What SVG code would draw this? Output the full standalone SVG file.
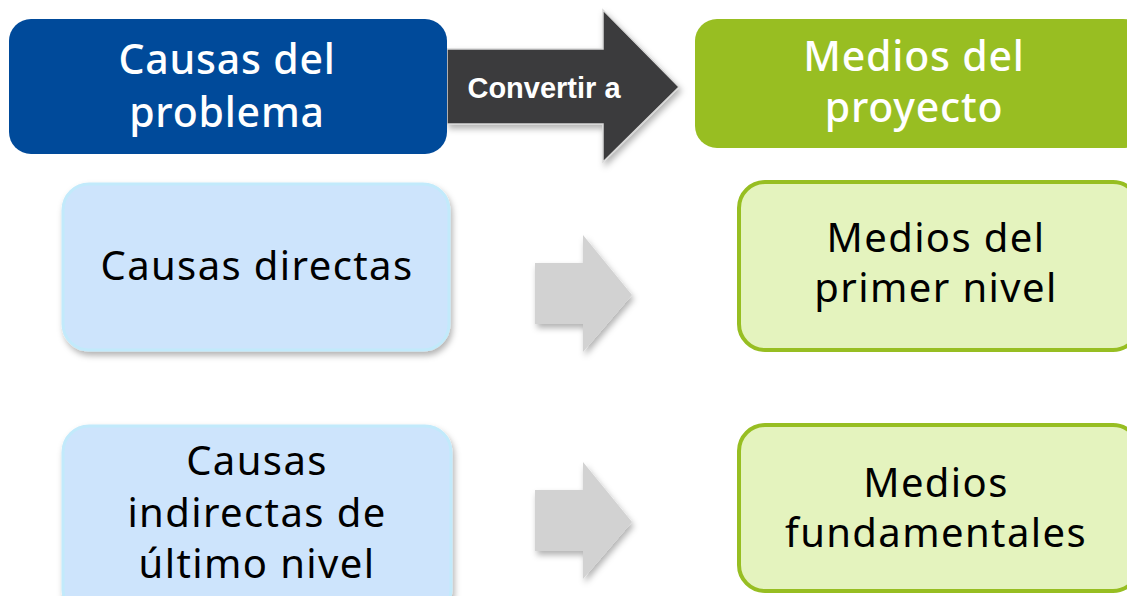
<svg xmlns="http://www.w3.org/2000/svg" width="1127" height="596" viewBox="0 0 1127 596">
<defs>
<filter id="sh" x="-10%" y="-10%" width="130%" height="130%">
<feDropShadow dx="2" dy="4" stdDeviation="3" flood-color="#000" flood-opacity="0.3"/>
</filter>
<style>
.t{font-family:"Noto Sans","Open Sans",sans-serif;text-anchor:middle}
.w{fill:#fff;font-size:41px;letter-spacing:0.8px;font-weight:500}
.k{fill:#000;font-size:40px;letter-spacing:1.4px}
.cause{fill:#CDE4FC;stroke:#C2EAFB;stroke-width:3;filter:url(#sh)}
.mean{fill:#E4F3BE;stroke:#97BE22;stroke-width:4}
.garrow{fill:#D2D2D2;filter:url(#sh)}
</style>
</defs>
<g id="connectors">
<path d="M447,49 H603 V10 L679,87 L603,162 V124 H447 Z" fill="#3A3A3C" stroke="#d8d8d8" stroke-width="1.5" filter="url(#sh)"/>
<text x="544" y="98" font-family="Liberation Sans, Arial, sans-serif" font-weight="bold" font-size="29" fill="#fff" text-anchor="middle">Convertir a</text>
<path class="garrow" d="M535,263 H583 V235 L632,295 L583,352 V324 H535 Z"/>
<path class="garrow" d="M535,490 H583 V462 L632,522 L583,579 V551 H535 Z"/>
</g>
<g id="causas-problema">
<rect x="9" y="19" width="438" height="135" rx="22" fill="#004A9A"/>
<text class="t w" x="227" y="74">Causas del</text>
<text class="t w" x="227" y="127">problema</text>
</g>
<g id="medios-proyecto">
<rect x="695" y="19" width="450" height="129" rx="22" fill="#98BE22"/>
<text class="t w" x="914" y="71">Medios del</text>
<text class="t w" x="914" y="122">proyecto</text>
</g>
<g id="causas-directas">
<rect class="cause" x="63" y="184" width="386" height="166" rx="26"/>
<text class="t k" x="257" y="280">Causas directas</text>
</g>
<g id="medios-primer-nivel">
<rect class="mean" x="739" y="182" width="400" height="168" rx="26"/>
<text class="t k" x="936" y="252">Medios del</text>
<text class="t k" x="936" y="302">primer nivel</text>
</g>
<g id="causas-indirectas">
<rect class="cause" x="63" y="426" width="388" height="190" rx="26"/>
<text class="t k" x="257" y="475">Causas</text>
<text class="t k" x="257" y="527">indirectas de</text>
<text class="t k" x="257" y="578">último nivel</text>
</g>
<g id="medios-fundamentales">
<rect class="mean" x="739" y="425" width="400" height="166" rx="26"/>
<text class="t k" x="936" y="497">Medios</text>
<text class="t k" x="936" y="547">fundamentales</text>
</g>
</svg>
